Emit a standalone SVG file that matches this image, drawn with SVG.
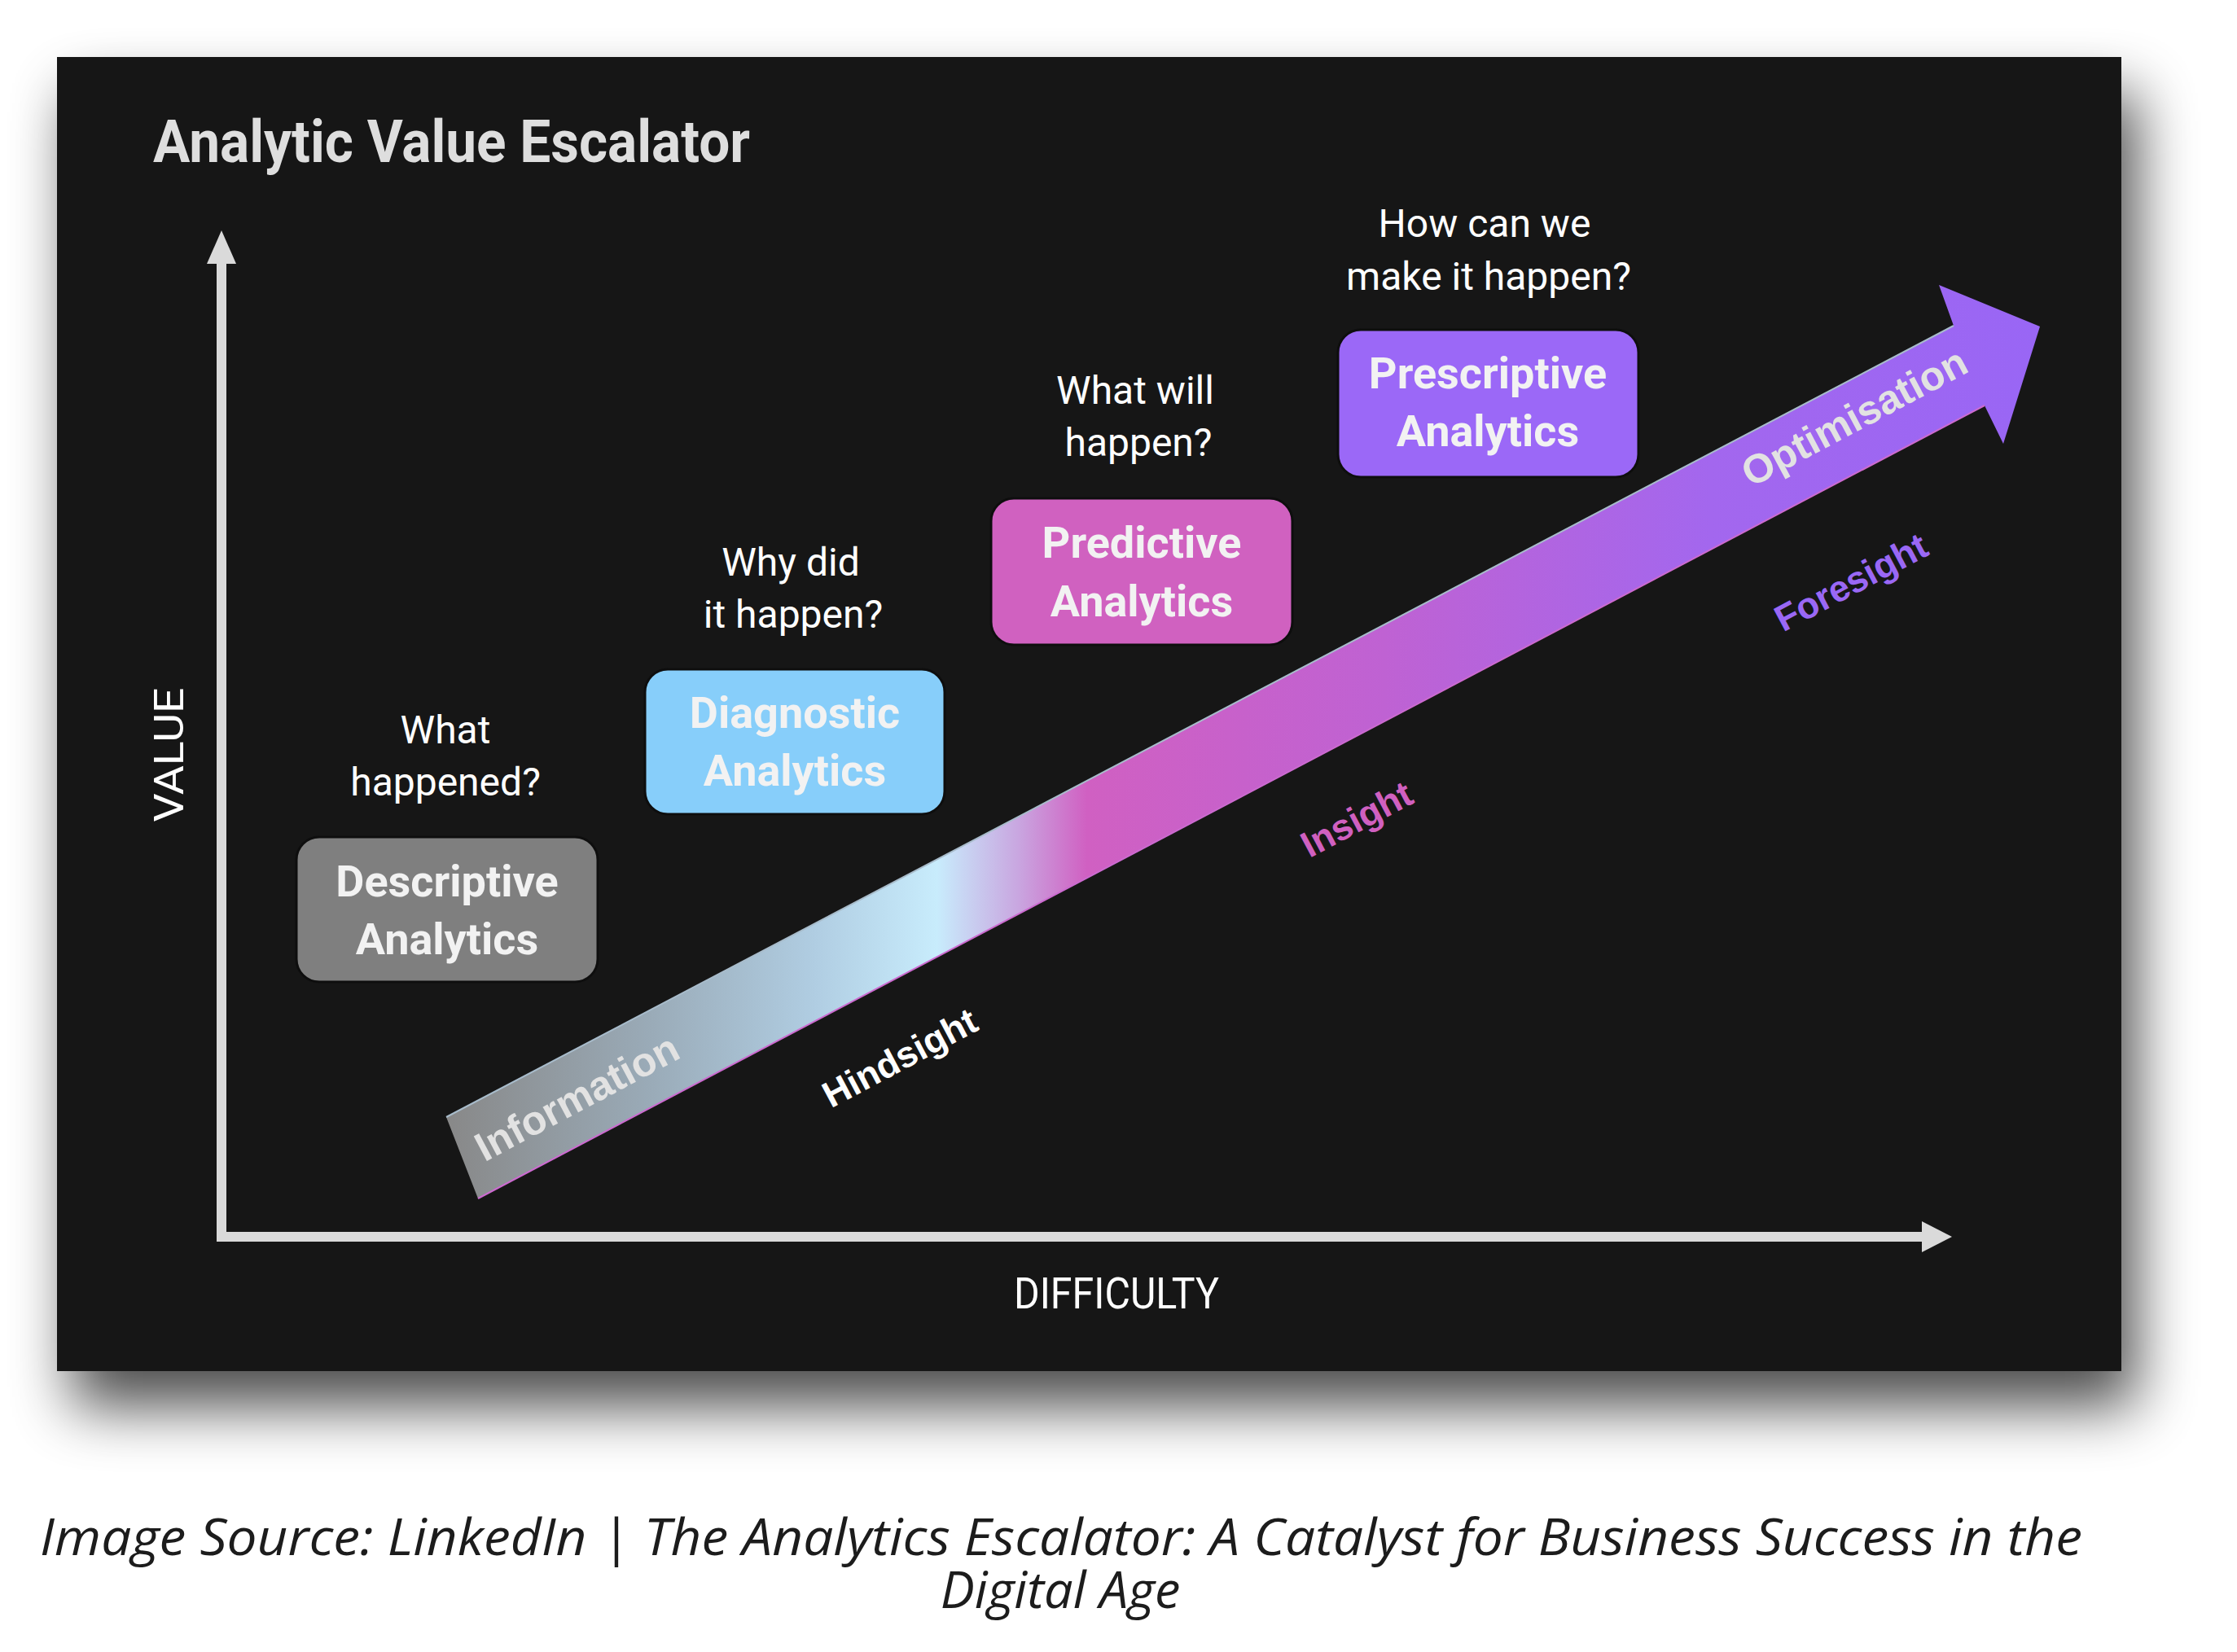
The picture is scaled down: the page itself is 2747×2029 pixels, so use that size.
<svg xmlns="http://www.w3.org/2000/svg" width="2747" height="2029" viewBox="0 0 2747 2029">
  <style>
    .box-title { font-family: Roboto, "Liberation Sans", sans-serif; font-weight: bold; font-size: 54px; fill: #f2f2f2; text-anchor: middle; }
    .question { font-family: Roboto, "Liberation Sans", sans-serif; font-size: 48px; fill: #ffffff; text-anchor: middle; }
    .axis-label { font-family: Roboto, "Liberation Sans", sans-serif; fill: #ffffff; text-anchor: middle; }
    .band-label { font-family: "Liberation Sans", Arial, sans-serif; font-weight: bold; text-anchor: middle; }
    .box { stroke: #0e0e0e; stroke-width: 3; }
    .axis { stroke: #dadada; stroke-width: 12; fill: none; }
    .axis-head { fill: #dadada; }
    .caption { font-family: "Open Sans", "Noto Sans", sans-serif; font-style: italic; font-size: 63px; fill: #1c1c1c; text-anchor: middle; }
  </style>
  <defs>
    <filter id="panelShadow" x="-10%" y="-10%" width="125%" height="140%">
      <feGaussianBlur in="SourceAlpha" stdDeviation="36"/>
      <feOffset dx="18" dy="44" result="off"/>
      <feComponentTransfer><feFuncA type="linear" slope="0.7"/></feComponentTransfer>
      <feMerge><feMergeNode/><feMergeNode in="SourceGraphic"/></feMerge>
    </filter>
    <linearGradient id="bandGrad" gradientUnits="userSpaceOnUse" x1="548" y1="0" x2="2505" y2="0">
      <stop offset="0" stop-color="#888888"/>
      <stop offset="0.129" stop-color="#9aabb8"/>
      <stop offset="0.231" stop-color="#b0cde2"/>
      <stop offset="0.308" stop-color="#c8ecfc"/>
      <stop offset="0.359" stop-color="#c9a6e0"/>
      <stop offset="0.402" stop-color="#d060c2"/>
      <stop offset="0.589" stop-color="#bf62d3"/>
      <stop offset="0.793" stop-color="#a367ee"/>
      <stop offset="1" stop-color="#9966f5"/>
    </linearGradient>
  </defs>

  <rect x="0" y="0" width="2747" height="2029" fill="#ffffff"/>

  <!-- dark panel -->
  <rect id="panel" x="70" y="70" width="2535" height="1614" fill="#181818" filter="url(#panelShadow)"/>

  <text x="188" y="199" font-family="Roboto, 'Liberation Sans', sans-serif" font-weight="bold" font-size="72" fill="#dedede" textLength="733" lengthAdjust="spacingAndGlyphs">Analytic Value Escalator</text>

  <!-- axes -->
  <g id="connectors">
    <line class="axis" x1="272" y1="1525" x2="272" y2="318"/>
    <polygon class="axis-head" points="272,283 254,324 290,324"/>
    <line class="axis" x1="266" y1="1519" x2="2362" y2="1519"/>
    <polygon class="axis-head" points="2397,1519 2360,1500 2360,1538"/>
  </g>

  <text class="axis-label" transform="translate(207.5,927) rotate(-90)" y="17.5" font-size="50" textLength="165" lengthAdjust="spacingAndGlyphs">VALUE</text>
  <text class="axis-label" x="1371" y="1607" font-size="54" textLength="252" lengthAdjust="spacingAndGlyphs">DIFFICULTY</text>

  <!-- escalator band -->
  <g id="escalator">
    <polygon points="548,1372 2399,400 2381,350 2505,401 2460,545 2437,498 587,1472" fill="url(#bandGrad)"/>
    <line x1="548" y1="1372" x2="2399" y2="400" stroke="#a8bccb" stroke-width="2"/>
    <line x1="587" y1="1472" x2="2437" y2="498" stroke="#cc6ad0" stroke-width="2"/>
    <text class="band-label" transform="translate(708,1347) rotate(-28)" y="18" font-size="50" fill="#e2e2e2">Information</text>
    <text class="band-label" transform="translate(2279,516) rotate(-28)" y="13" font-size="50" fill="#e2e2e2">Optimisation</text>
    <text class="band-label" transform="translate(1107,1303) rotate(-28)" y="11" font-size="45" fill="#ffffff">Hindsight</text>
    <text class="band-label" transform="translate(1668,1010) rotate(-28)" y="11" font-size="45" fill="#d060c0">Insight</text>
    <text class="band-label" transform="translate(2275,719) rotate(-28)" y="11" font-size="45" fill="#9a68f5">Foresight</text>
  </g>

  <!-- nodes -->
  <g id="node-descriptive">
    <rect class="box" x="364" y="1028" width="370" height="178" rx="28" fill="#7f7f7f"/>
    <text class="box-title" x="549" y="1101">Descriptive</text>
    <text class="box-title" x="549" y="1172">Analytics</text>
    <text class="question" x="547" y="913">What</text>
    <text class="question" x="547" y="977">happened?</text>
  </g>

  <g id="node-diagnostic">
    <rect class="box" x="792" y="822" width="368" height="178" rx="28" fill="#87cefa"/>
    <text class="box-title" x="976" y="894">Diagnostic</text>
    <text class="box-title" x="976" y="965">Analytics</text>
    <text class="question" x="971" y="707">Why did</text>
    <text class="question" x="974" y="771">it happen?</text>
  </g>

  <g id="node-predictive">
    <rect class="box" x="1217" y="612" width="370" height="180" rx="28" fill="#d061c0"/>
    <text class="box-title" x="1402" y="685">Predictive</text>
    <text class="box-title" x="1402" y="757">Analytics</text>
    <text class="question" x="1394" y="496">What will</text>
    <text class="question" x="1398" y="560">happen?</text>
  </g>

  <g id="node-prescriptive">
    <rect class="box" x="1643" y="405" width="369" height="181" rx="28" fill="#9b68f7"/>
    <text class="box-title" x="1827" y="477">Prescriptive</text>
    <text class="box-title" x="1827" y="548">Analytics</text>
    <text class="question" x="1823" y="291">How can we</text>
    <text class="question" x="1828" y="356">make it happen?</text>
  </g>

  <!-- caption -->
  <text class="caption"><tspan x="1303" y="1910" textLength="2508" lengthAdjust="spacingAndGlyphs">Image Source: LinkedIn | The Analytics Escalator: A Catalyst for Business Success in the</tspan><tspan x="1302" y="1975">Digital Age</tspan></text>
</svg>
